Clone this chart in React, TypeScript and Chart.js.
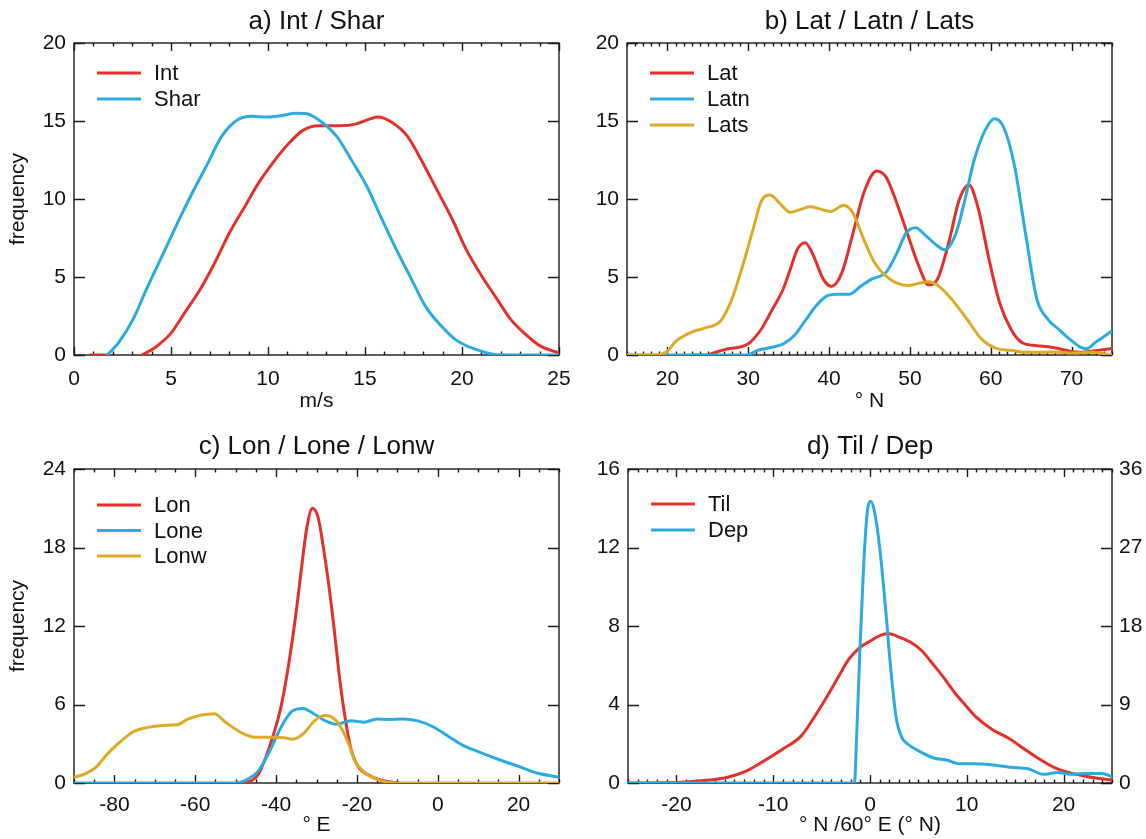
import { useEffect, useRef } from 'react';
import { Chart, registerables } from 'chart.js';
Chart.register(...registerables);

const RED = '#e3312a';
const BLUE = '#2aabe2';
const GOLD = '#dea927';
const FONT = "'Liberation Sans', Arial, Helvetica, sans-serif";

// ---------- panel a: Int / Shar ----------
const aXTicks = [0, 5, 10, 15, 20, 25];
const aYTicks = [0, 5, 10, 15, 20];
const intX = [0.8, 1.8, 2.6, 3.5, 4.2, 5, 5.7, 6.5, 7.25, 8.0, 8.8, 9.5, 10.3, 11.1, 11.8, 12.6, 13.7, 14.5, 15.3, 15.65, 16.4, 17.2, 17.9, 18.7, 19.5, 20.2, 21.0, 21.8, 22.5, 23.3, 24.0, 25];
const intY = [0, 0, null, 0, 0.5, 1.4, 2.7, 4.2, 5.9, 7.8, 9.5, 11, 12.4, 13.6, 14.4, 14.7, 14.7, 14.8, 15.15, 15.25, 14.9, 14.0, 12.5, 10.6, 8.7, 6.8, 5.1, 3.6, 2.3, 1.3, 0.6, 0.13];
const sharX = [1.72, 2.3, 3.05, 3.8, 4.6, 5.35, 6.1, 6.9, 7.6, 8.4, 9.16, 9.9, 10.7, 11.45, 12.0, 12.8, 13.55, 14.3, 15.1, 15.8, 16.6, 17.4, 18.1, 18.9, 19.65, 20.4, 21.2, 21.9, 25];
const sharY = [0, 0.8, 2.3, 4.4, 6.5, 8.5, 10.4, 12.3, 14.0, 15.05, 15.3, 15.25, 15.35, 15.5, 15.47, 14.9, 14.0, 12.5, 10.8, 8.9, 6.8, 4.85, 3.15, 1.9, 1.0, 0.5, 0.17, 0.02, 0];

// ---------- panel b: Lat / Latn / Lats ----------
const bXTicks = [20, 30, 40, 50, 60, 70];
const bYTicks = [0, 5, 10, 15, 20];
const latX = [22.95, 24.8, 26.1, 27.5, 29.3, 30.2, 31.6, 32.95, 34.3, 35.2, 36.1, 37.05, 37.95, 39.3, 40.3, 41.6, 42.95, 44.3, 45.9, 47.05, 48.4, 49.8, 51.1, 52.3, 53.4, 54.8, 56.1, 57.3, 58.4, 59.8, 61.1, 62.5, 63.85, 65.7, 67.5, 69.3, 71.1, 72.95, 75];
const latY = [0, 0, 0.2, 0.4, 0.55, 0.8, 1.65, 2.9, 4.2, 5.5, 6.8, 7.2, 6.5, 4.85, 4.4, 5.3, 7.8, 10.4, 11.8, 11.4, 9.7, 7.6, 5.7, 4.5, 4.85, 7.2, 9.95, 10.9, 9.5, 6.1, 3.35, 1.65, 0.8, 0.6, 0.5, 0.3, 0.17, 0.28, 0.42];
const latnX = [15, 29.8, 31.1, 32.95, 34.3, 35.7, 37.05, 38.4, 39.8, 41.1, 42.5, 43.9, 45.2, 47.05, 48.4, 49.5, 50.7, 52.05, 53.4, 54.3, 55.7, 56.8, 57.95, 59.3, 60.45, 61.6, 62.95, 64.3, 65.7, 67.05, 68.4, 69.8, 71.1, 71.8, 72.95, 75];
const latnY = [0, 0, 0.28, 0.5, 0.7, 1.25, 2.2, 3.15, 3.8, 3.9, 3.9, 4.4, 4.85, 5.3, 6.55, 7.8, 8.15, 7.6, 7.0, 6.75, 7.8, 9.95, 12.5, 14.4, 15.15, 14.6, 12.1, 7.8, 3.6, 2.3, 1.65, 1.0, 0.5, 0.4, 0.8, 1.55];
const latsX = [15, 18.4, 19.8, 21.1, 22.95, 24.8, 26.6, 27.95, 29.3, 30.7, 31.6, 32.7, 33.85, 35.2, 36.6, 37.7, 39.3, 40.2, 41.8, 42.95, 44.3, 45.65, 47.05, 48.4, 49.8, 51.1, 52.3, 53.6, 55.2, 57.05, 58.9, 60.7, 62.5, 64.3, 66.6, 67.95, 70.2, 72.5, 75];
const latsY = [0, 0, 0.17, 0.9, 1.45, 1.75, 2.2, 3.55, 5.7, 8.25, 9.85, 10.25, 9.75, 9.15, 9.35, 9.5, 9.3, 9.2, 9.6, 9.1, 7.4, 5.9, 5.05, 4.6, 4.45, 4.6, 4.7, 4.4, 3.55, 2.3, 1.0, 0.42, 0.3, 0.17, 0.17, 0.2, 0.13, 0.17, 0];

// ---------- panel c: Lon / Lone / Lonw ----------
const cXTicks = [-80, -60, -40, -20, 0, 20];
const cYTicks = [0, 6, 12, 18, 24];
const lonX = [-49.8, -46.1, -44.3, -42.5, -40.6, -38.8, -37.0, -35.1, -33.8, -32.4, -31.0, -29.6, -28.3, -26.9, -25.5, -24.2, -22.8, -21.4, -19.6, -16.8, -14.1, -11.4, -9.5];
const lonY = [0, 0.18, 0.7, 2.0, 3.75, 5.8, 8.85, 12.9, 16.2, 19.5, 21.0, 20.3, 18.0, 15.0, 11.4, 7.8, 4.75, 2.5, 1.2, 0.55, 0.23, 0.05, 0];
const loneX = [-90, -49.8, -47.0, -44.3, -41.5, -38.8, -36.0, -33.3, -30.5, -27.8, -25.1, -21.4, -18.2, -15.0, -12.2, -8.6, -4.9, -1.2, 2.5, 6.1, 10, 15.4, 20.7, 24.6, 30];
const loneY = [0, 0, 0.3, 0.95, 2.5, 4.25, 5.5, 5.7, 5.25, 4.75, 4.5, 4.75, 4.65, 4.9, 4.85, 4.9, 4.75, 4.3, 3.6, 2.9, 2.4, 1.76, 1.2, 0.76, 0.45];
const lonwX = [-90, -87.3, -84.6, -81.8, -79.1, -75.4, -71.8, -68.1, -64.5, -61.7, -59.0, -55.3, -52.5, -48.9, -45.2, -41.5, -37.9, -36.0, -33.3, -30.5, -27.8, -25.1, -22.3, -20.5, -17.7, -14.1, -10.4, 30];
const lonwY = [0.43, 0.7, 1.2, 2.2, 3.0, 3.9, 4.25, 4.4, 4.45, 4.9, 5.15, 5.3, 4.65, 3.9, 3.5, 3.5, 3.45, 3.35, 3.75, 4.75, 5.15, 4.75, 3.2, 1.7, 0.7, 0.18, 0, 0];

// ---------- panel d: Til / Dep ----------
const dXTicks = [-20, -10, 0, 10, 20];
const dYTicks = [0, 4, 8, 12, 16];
const dY2Ticks = [0, 9, 18, 27, 36];
const tilX = [-25, -20, -16.6, -14.7, -12.8, -10.9, -9.0, -7.1, -6.0, -4.5, -3.3, -2.2, -1.06, 0.08, 1.2, 1.97, 3.1, 4.2, 5.35, 6.5, 7.6, 8.75, 9.9, 11.0, 12.55, 14.45, 15.95, 17.5, 19.0, 20.5, 22.0, 23.5, 25];
const tilY = [0, 0.03, 0.15, 0.29, 0.6, 1.14, 1.73, 2.4, 3.17, 4.36, 5.38, 6.3, 6.9, 7.25, 7.55, 7.6, 7.42, 7.17, 6.74, 6.06, 5.38, 4.6, 3.94, 3.34, 2.75, 2.24, 1.73, 1.22, 0.8, 0.54, 0.37, 0.24, 0.15];
const depX = [-25, -1.6, -1.45, -1.06, -0.68, -0.3, 0.08, 0.45, 1.0, 1.6, 2.16, 2.7, 3.3, 3.85, 5.0, 6.5, 8.0, 9.2, 10.7, 12.55, 14.45, 16.4, 17.9, 19.4, 20.9, 22.4, 24.0, 25];
const depY = [0, 0, 3.3, 14.8, 24.4, 30.9, 32.3, 31.2, 27.0, 20.1, 12.9, 7.5, 5.2, 4.5, 3.7, 2.9, 2.6, 2.2, 2.2, 2.1, 1.8, 1.6, 1.0, 1.2, 1.0, 1.1, 1.1, 0.7];

type Series = { label: string; color: string; xs: number[]; ys: (number | null)[]; axis?: string };

function pts(xs: number[], ys: (number | null)[]) {
  return xs.map((x, i) => ({ x, y: ys[i] }));
}

const framePlugin = {
  id: 'frame',
  beforeDatasetsDraw(chart: any, _args: any, opts: any) {
    const { ctx, chartArea } = chart;
    const { left, right, top, bottom } = chartArea;
    const xs = chart.scales.x;
    const ys = chart.scales.y;
    ctx.save();
    ctx.strokeStyle = '#1a1a1a';
    ctx.lineWidth = 1.4;
    ctx.strokeRect(left, top, right - left, bottom - top);
    ctx.beginPath();
    const start = Math.ceil(xs.min / opts.xMinor) * opts.xMinor;
    for (let v = start; v <= xs.max + 1e-9; v += opts.xMinor) {
      const px = Math.round(xs.getPixelForValue(v)) + 0.5;
      const major = Math.abs(v / opts.xMajor - Math.round(v / opts.xMajor)) < 1e-6;
      const len = major ? 8 : 3.5;
      ctx.moveTo(px, bottom);
      ctx.lineTo(px, bottom - len);
      ctx.moveTo(px, top);
      ctx.lineTo(px, top + len);
    }
    for (const v of opts.yTicks) {
      const py = Math.round(ys.getPixelForValue(v)) + 0.5;
      ctx.moveTo(left, py);
      ctx.lineTo(left + 11, py);
      ctx.moveTo(right, py);
      ctx.lineTo(right - 11, py);
    }
    ctx.stroke();
    ctx.restore();
  },
  afterDatasetsDraw(chart: any, _args: any, opts: any) {
    const { ctx, chartArea } = chart;
    const items = opts.items as { label: string; color: string }[];
    ctx.save();
    ctx.font = `22px ${FONT}`;
    ctx.textBaseline = 'middle';
    ctx.textAlign = 'left';
    items.forEach((it, i) => {
      const y = chartArea.top + opts.legendTop + i * opts.legendGap;
      const x0 = chartArea.left + 23;
      ctx.strokeStyle = it.color;
      ctx.lineWidth = 3;
      ctx.beginPath();
      ctx.moveTo(x0, y);
      ctx.lineTo(x0 + 44, y);
      ctx.stroke();
      ctx.fillStyle = '#111';
      ctx.fillText(it.label, x0 + 57, y + 1);
    });
    ctx.restore();
  },
};

type PanelSpec = {
  title: string;
  titleTop: number;
  titleBottom: number;
  padRight: number;
  yWidth: number;
  xHeight: number;
  xMin: number;
  xMax: number;
  xTicks: number[];
  xMinor: number;
  xMajor: number;
  yMax: number;
  yTicks: number[];
  xTitle: string;
  xTitleBottom: number;
  xTickPad: number;
  yTitle?: string;
  series: Series[];
  legendTop: number;
  legendGap: number;
  y2Max?: number;
  y2Ticks?: number[];
  y2Width?: number;
};

function makeConfig(p: PanelSpec): any {
  const tickFont = { family: FONT, size: 21 };
  const scales: any = {
    x: {
      type: 'linear',
      min: p.xMin,
      max: p.xMax,
      afterBuildTicks: (s: any) => { s.ticks = p.xTicks.map((v) => ({ value: v })); },
      afterFit: (s: any) => { s.height = p.xHeight; s.paddingLeft = 0; s.paddingRight = 0; },
      ticks: { font: tickFont, color: '#111', padding: p.xTickPad, maxRotation: 0, autoSkip: false, callback: (v: any) => String(v) },
      grid: { display: false, drawTicks: false },
      border: { display: false },
      title: { display: true, text: p.xTitle, color: '#111', font: { family: FONT, size: 21 }, padding: { top: 0, bottom: p.xTitleBottom } },
    },
    y: {
      type: 'linear',
      min: 0,
      max: p.yMax,
      afterBuildTicks: (s: any) => { s.ticks = p.yTicks.map((v) => ({ value: v })); },
      afterFit: (s: any) => { s.width = p.yWidth; s.paddingTop = 0; s.paddingBottom = 0; },
      ticks: { font: tickFont, color: '#111', padding: 8, autoSkip: false, callback: (v: any) => String(v) },
      grid: { display: false, drawTicks: false },
      border: { display: false },
      title: p.yTitle
        ? { display: true, text: p.yTitle, color: '#111', font: { family: FONT, size: 21 }, padding: { top: 6, bottom: 0 } }
        : { display: false },
    },
  };
  if (p.y2Max) {
    scales.y2 = {
      type: 'linear',
      position: 'right',
      min: 0,
      max: p.y2Max,
      afterBuildTicks: (s: any) => { s.ticks = (p.y2Ticks || []).map((v) => ({ value: v })); },
      afterFit: (s: any) => { s.width = p.y2Width; s.paddingTop = 0; s.paddingBottom = 0; },
      ticks: { font: tickFont, color: '#111', padding: 7, autoSkip: false, callback: (v: any) => String(v) },
      grid: { display: false, drawTicks: false },
      border: { display: false },
    };
  }
  const n = p.series.length;
  return {
    type: 'line',
    data: {
      datasets: p.series.map((s, i) => ({
        label: s.label,
        data: pts(s.xs, s.ys),
        borderColor: s.color,
        backgroundColor: s.color,
        borderWidth: 3,
        pointRadius: 0,
        cubicInterpolationMode: 'monotone',
        spanGaps: false,
        yAxisID: s.axis || 'y',
        order: n - i,
      })),
    },
    options: {
      responsive: false,
      animation: false,
      events: [],
      layout: { padding: { top: 0, left: 0, right: p.padRight, bottom: 0 } },
      scales,
      plugins: {
        legend: { display: false },
        tooltip: { enabled: false },
        title: {
          display: true,
          text: p.title,
          fullSize: false,
          color: '#111',
          font: { family: FONT, size: 26, weight: 'normal' },
          padding: { top: p.titleTop, bottom: p.titleBottom },
        },
        frame: {
          xMinor: p.xMinor,
          xMajor: p.xMajor,
          yTicks: p.yTicks,
          items: p.series.map((s) => ({ label: s.label, color: s.color })),
          legendTop: p.legendTop,
          legendGap: p.legendGap,
        },
      },
    },
    plugins: [framePlugin],
  };
}

const panels: { spec: PanelSpec; left: number; top: number; w: number; h: number }[] = [
  {
    left: 0, top: 0, w: 573, h: 419,
    spec: {
      title: 'a) Int / Shar', titleTop: 6.4, titleBottom: 5.4, padRight: 14, yWidth: 74, xHeight: 64,
      xMin: 0, xMax: 25, xTicks: aXTicks, xMinor: 1, xMajor: 5, yMax: 20, yTicks: aYTicks,
      xTitle: 'm/s', xTitleBottom: 5, xTickPad: 12, yTitle: 'frequency',
      series: [
        { label: 'Int', color: RED, xs: intX, ys: intY },
        { label: 'Shar', color: BLUE, xs: sharX, ys: sharY },
      ],
      legendTop: 30, legendGap: 26,
    },
  },
  {
    left: 573, top: 0, w: 573, h: 419,
    spec: {
      title: 'b) Lat / Latn / Lats', titleTop: 6.4, titleBottom: 5.4, padRight: 34, yWidth: 54, xHeight: 64,
      xMin: 15, xMax: 75, xTicks: bXTicks, xMinor: 1, xMajor: 10, yMax: 20, yTicks: bYTicks,
      xTitle: '° N', xTitleBottom: 5, xTickPad: 12,
      series: [
        { label: 'Lat', color: RED, xs: latX, ys: latY },
        { label: 'Latn', color: BLUE, xs: latnX, ys: latnY },
        { label: 'Lats', color: GOLD, xs: latsX, ys: latsY },
      ],
      legendTop: 30, legendGap: 26,
    },
  },
  {
    left: 0, top: 419, w: 573, h: 420,
    spec: {
      title: 'c) Lon / Lone / Lonw', titleTop: 12.4, titleBottom: 6.4, padRight: 14, yWidth: 74, xHeight: 56,
      xMin: -90, xMax: 30, xTicks: cXTicks, xMinor: 5, xMajor: 20, yMax: 24, yTicks: cYTicks,
      xTitle: '° E', xTitleBottom: 1, xTickPad: 10, yTitle: 'frequency',
      series: [
        { label: 'Lon', color: RED, xs: lonX, ys: lonY },
        { label: 'Lone', color: BLUE, xs: loneX, ys: loneY },
        { label: 'Lonw', color: GOLD, xs: lonwX, ys: lonwY },
      ],
      legendTop: 36, legendGap: 25.5,
    },
  },
  {
    left: 573, top: 419, w: 573, h: 420,
    spec: {
      title: 'd) Til / Dep', titleTop: 12.4, titleBottom: 6.4, padRight: 0, yWidth: 55, xHeight: 56,
      xMin: -25, xMax: 25, xTicks: dXTicks, xMinor: 1, xMajor: 10, yMax: 16, yTicks: dYTicks,
      xTitle: '° N /60° E (° N)', xTitleBottom: 1, xTickPad: 10,
      series: [
        { label: 'Til', color: RED, xs: tilX, ys: tilY },
        { label: 'Dep', color: BLUE, xs: depX, ys: depY, axis: 'y2' },
      ],
      legendTop: 35, legendGap: 26,
      y2Max: 36, y2Ticks: dY2Ticks, y2Width: 34,
    },
  },
];

function Panel({ spec, left, top, w, h }: { spec: PanelSpec; left: number; top: number; w: number; h: number }) {
  const ref = useRef<HTMLCanvasElement | null>(null);
  useEffect(() => {
    if (!ref.current) return;
    const chart = new Chart(ref.current, makeConfig(spec));
    return () => chart.destroy();
  }, [spec]);
  return (
    <canvas
      ref={ref}
      width={w}
      height={h}
      style={{ position: 'absolute', left, top, width: w, height: h }}
    />
  );
}

export default function App() {
  return (
    <div style={{ position: 'absolute', left: 0, top: 0, width: 1146, height: 839, background: '#fff', overflow: 'hidden' }}>
      {panels.map((p, i) => (
        <Panel key={i} {...p} />
      ))}
    </div>
  );
}
